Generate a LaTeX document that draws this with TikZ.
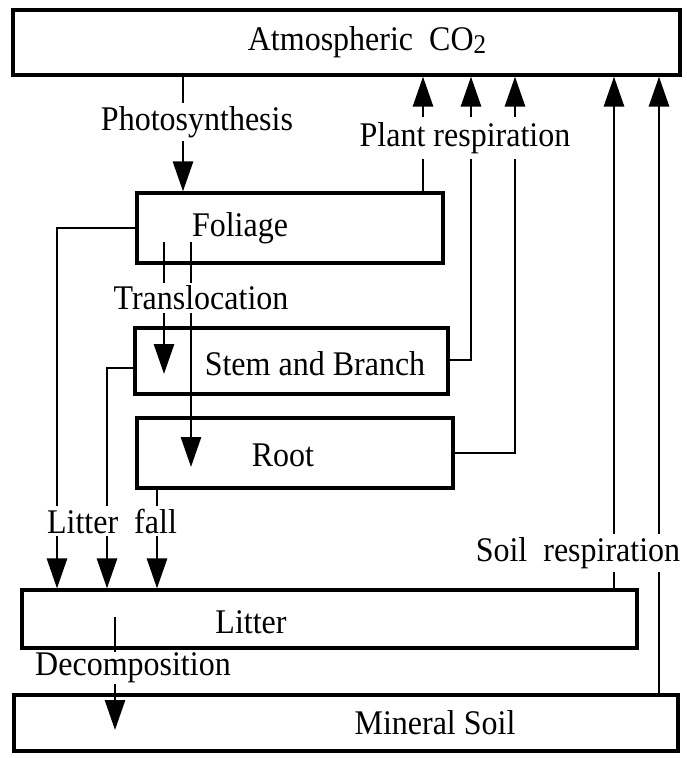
\documentclass[tikz,border=0pt]{standalone}
\usepackage{fontspec}
\setmainfont{Liberation Serif}
\usetikzlibrary{arrows.meta}
\newcommand{\tx}[1]{\scalebox{1}[1.08]{#1}}
\begin{document}
\begin{tikzpicture}[x=1pt,y=-1pt,
  box/.style={draw,line width=3.2pt,rectangle,inner sep=0pt},
  txt/.style={font=\fontsize{32}{38}\selectfont,inner sep=0pt},
  lab/.style={font=\fontsize{32}{38}\selectfont,fill=white,inner xsep=2pt,inner ysep=3pt},
  conn/.style={line width=2.8pt},
  arr/.style={conn,-{Triangle[length=30pt,width=20pt]}}]
\useasboundingbox (0,0) rectangle (687,758);
% boxes
\node[box,minimum width=667pt,minimum height=65pt] (atm) at (346.5,42.5) {};
\node[box,minimum width=306pt,minimum height=70pt] (fol) at (290,228) {};
\node[box,minimum width=313pt,minimum height=66pt] (stem) at (291.5,361) {};
\node[box,minimum width=316pt,minimum height=70pt] (root) at (295,453) {};
\node[box,minimum width=615pt,minimum height=58pt] (lit) at (329.5,619) {};
\node[box,minimum width=664pt,minimum height=56pt] (soil) at (346,723) {};
% box texts
\node[txt] (atmtxt) at (367,42) {\tx{Atmospheric\ \ CO\raisebox{-3pt}{\fontsize{25}{25}\selectfont 2}}};
\node[txt] (foltxt) at (240,228) {\tx{Foliage}};
\node[txt] (stemtxt) at (315,364) {\tx{Stem and Branch}};
\node[txt] (roottxt) at (283,455) {\tx{Root}};
\node[txt] (littxt) at (251,622) {\tx{Litter}};
\node[txt] (soiltxt) at (435,723) {\tx{Mineral Soil}};
% coordinates for internal ends
\coordinate (t1s) at (164,242);
\coordinate (t1e) at (164,374);
\coordinate (t2s) at (191,242);
\coordinate (t2e) at (191,467);
\coordinate (ds) at (115,617);
\coordinate (de) at (115,730);
\coordinate (se) at (448,360);
\coordinate (sw) at (135,368);
% photosynthesis
\draw[arr] (183,0 |- atm.south) -- (183,0 |- fol.north);
% plant respiration
\draw[arr] (423,0 |- fol.north) -- (423,0 |- atm.south);
\draw[arr] (se) -- (471,0 |- se) -- (471,0 |- atm.south);
\draw[arr] (root.east) -- (515,0 |- root.east) -- (515,0 |- atm.south);
% soil respiration
\draw[arr] (614,0 |- lit.north) -- (614,0 |- atm.south);
\draw[arr] (659,0 |- soil.north) -- (659,0 |- atm.south);
% litter fall
\draw[arr] (fol.west) -- (57,0 |- fol.west) -- (57,0 |- lit.north);
\draw[arr] (sw) -- (107,0 |- sw) -- (107,0 |- lit.north);
\draw[arr] (157,0 |- root.south) -- (157,0 |- lit.north);
% translocation
\draw[arr] (t1s) -- (t1e);
\draw[arr] (t2s) -- (t2e);
% decomposition
\draw[arr] (ds) -- (de);
% labels
\node[lab] (photo) at (197,122) {\tx{Photosynthesis}};
\node[lab,inner ysep=5pt] (prespl) at (465,138) {\tx{Plant respiration}};
\node[lab] (trans) at (201,298) {\tx{Translocation}};
\node[lab] (lfall) at (112,521) {\tx{Litter\ \ fall}};
\node[lab] (sresp) at (578,553) {\tx{Soil\ \ respiration}};
\node[lab,inner ysep=0.5pt] (decomp) at (133,668) {\tx{Decomposition}};
\end{tikzpicture}
\end{document}
